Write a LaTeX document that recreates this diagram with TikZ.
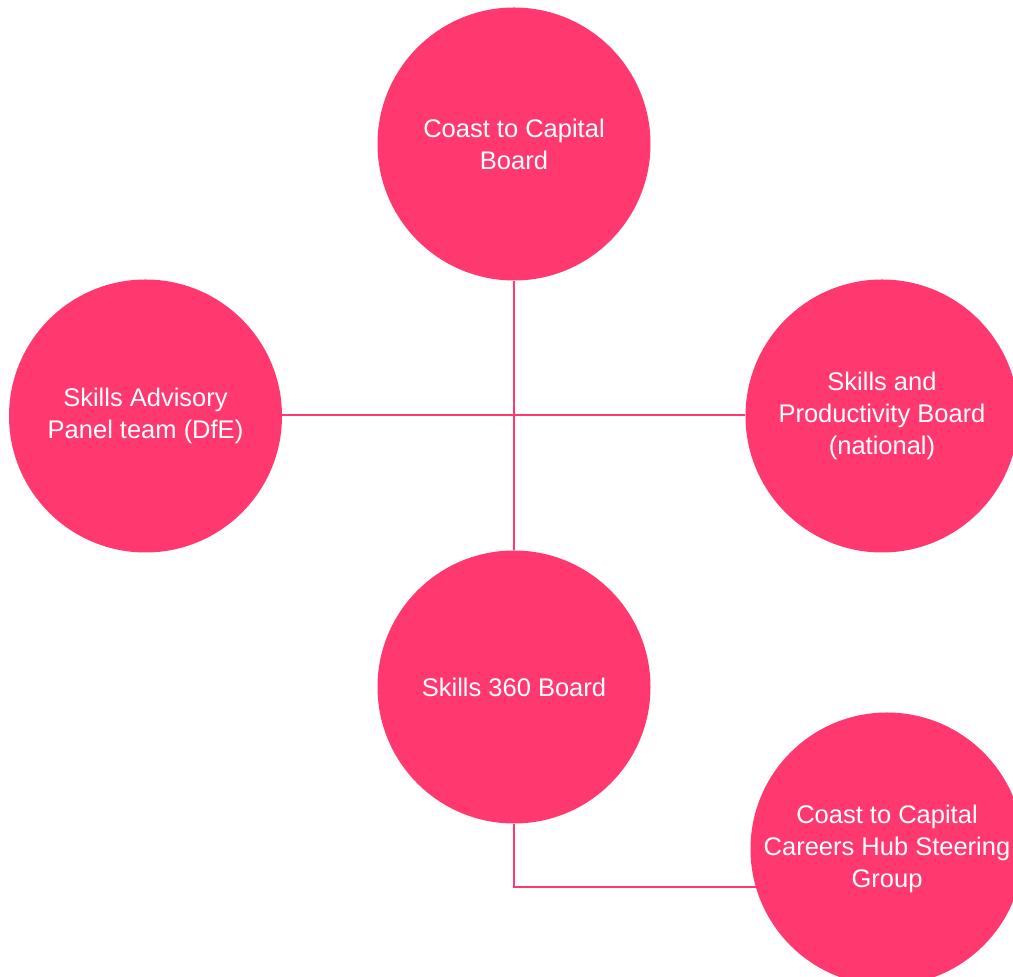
\documentclass[tikz,border=0pt]{standalone}
\usepackage{fontspec}
\setmainfont{Liberation Sans}
\definecolor{pink}{HTML}{FF3870}
\begin{document}
\begin{tikzpicture}[x=1pt,y=1pt,
  bubble/.style={circle,fill=pink,draw=none,minimum size=273pt,inner sep=0pt,
    text=white,align=center,font=\fontsize{25.5}{32}\selectfont},
  link/.style={draw=pink,line width=2pt}]
\useasboundingbox (0,0) rectangle (1013,977);
\node[bubble] (top) at (514,833) {Coast to Capital\\Board};
\node[bubble] (left) at (145.5,561) {Skills Advisory\\Panel team (DfE)};
\node[bubble] (right) at (882,561) {Skills and\\Productivity Board\\(national)};
\node[bubble] (bot) at (514,290) {Skills 360 Board};
\node[bubble] (br) at (887,128) {Coast to Capital\\Careers Hub Steering\\Group};
\draw[link] (top.south) -- (bot.north);
\draw[link] ([yshift=1pt]left.east) -- ([yshift=1pt]right.west);
\draw[link] (bot.south) |- (br.196);
\end{tikzpicture}
\end{document}
